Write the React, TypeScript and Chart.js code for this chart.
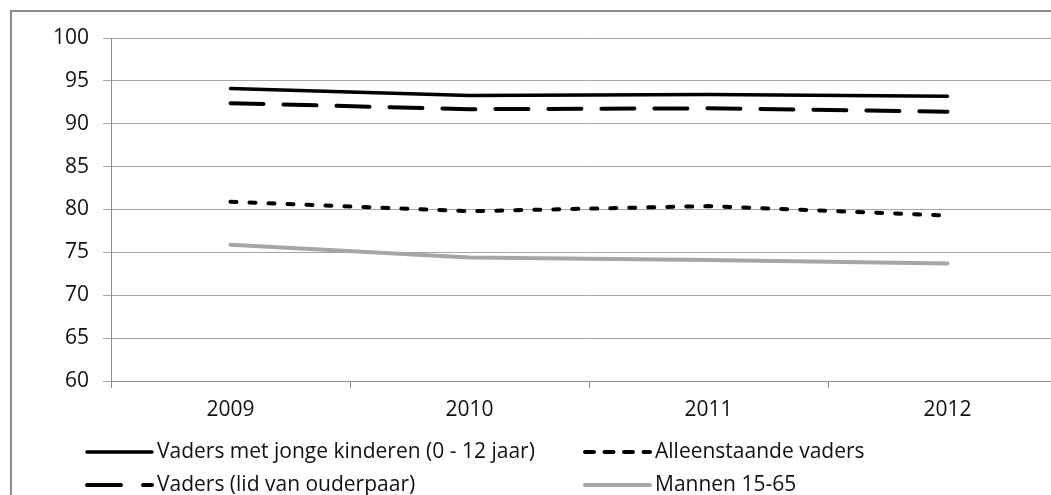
import React, { useEffect, useRef } from "react";
import { Chart, registerables } from "chart.js";

Chart.register(...registerables);

const years = ["2009", "2010", "2011", "2012"];
const vadersJongeKinderen = [94.1, 93.3, 93.4, 93.2];
const vadersOuderpaar = [92.4, 91.7, 91.8, 91.4];
const alleenstaandeVaders = [80.9, 79.8, 80.4, 79.3];
const mannen1565 = [75.9, 74.4, 74.1, 73.7];
const seriesLabels = [
  "Vaders met jonge kinderen (0 - 12 jaar)",
  "Alleenstaande vaders",
  "Vaders (lid van ouderpaar)",
  "Mannen 15-65",
];

const FONT = "'Open Sans', sans-serif";
const FONT_SIZE = 21;

const legendPlugin = {
  id: "customLegend",
  afterDraw(chart: any) {
    const ctx = chart.ctx;
    const order = [0, 2, 1, 3];
    const positions = [
      { x: 87, y: 452 },
      { x: 585, y: 452 },
      { x: 87, y: 485 },
      { x: 585, y: 485 },
    ];
    ctx.save();
    order.forEach((dsIndex, i) => {
      const ds = chart.data.datasets[dsIndex];
      const p = positions[i];
      ctx.beginPath();
      ctx.strokeStyle = ds.borderColor;
      ctx.lineWidth = ds.borderWidth;
      ctx.lineCap = "round";
      ctx.setLineDash(ds.legendDash || []);
      ctx.moveTo(p.x, p.y);
      ctx.lineTo(p.x + 65, p.y);
      ctx.stroke();
      ctx.setLineDash([]);
      ctx.fillStyle = "#111";
      ctx.font = `${FONT_SIZE}px ${FONT}`;
      ctx.textAlign = "left";
      ctx.textBaseline = "middle";
      ctx.fillText(ds.label, p.x + 70, p.y);
    });
    ctx.restore();
  },
};

export default function App() {
  const ref = useRef<HTMLCanvasElement>(null);
  useEffect(() => {
    document.body.style.margin = "0";
    document.body.style.overflow = "hidden";
    const chart = new Chart(ref.current!, {
      type: "line",
      data: {
        labels: years,
        datasets: [
          {
            label: seriesLabels[0],
            data: vadersJongeKinderen,
            borderColor: "#000000",
            borderWidth: 3.5,
            borderCapStyle: "round",
            pointRadius: 0,
            legendDash: [],
          } as any,
          {
            label: seriesLabels[2],
            data: vadersOuderpaar,
            borderColor: "#000000",
            borderWidth: 4,
            borderCapStyle: "round",
            borderDash: [33, 20],
            pointRadius: 0,
            legendDash: [34, 22],
          } as any,
          {
            label: seriesLabels[1],
            data: alleenstaandeVaders,
            borderColor: "#000000",
            borderWidth: 4,
            borderCapStyle: "round",
            borderDash: [6, 13],
            pointRadius: 0,
            legendDash: [9, 10.5],
          } as any,
          {
            label: seriesLabels[3],
            data: mannen1565,
            borderColor: "#a6a6a6",
            borderWidth: 4,
            borderCapStyle: "round",
            pointRadius: 0,
            legendDash: [],
          } as any,
        ],
      },
      options: {
        responsive: false,
        animation: false,
        layout: { padding: { left: 0, top: 38, right: 23, bottom: 69 } },
        plugins: { legend: { display: false }, tooltip: { enabled: false } },
        scales: {
          x: {
            offset: true,
            afterFit: (s: any) => {
              s.height = 45;
            },
            grid: {
              offset: true,
              drawOnChartArea: false,
              drawTicks: true,
              tickLength: 7,
              color: "#8c8c8c",
            },
            border: { color: "#8c8c8c", width: 1 },
            ticks: {
              color: "#111",
              padding: 9,
              font: { family: FONT, size: FONT_SIZE },
            },
          },
          y: {
            min: 60,
            max: 100,
            afterFit: (s: any) => {
              s.width = 111;
            },
            grid: {
              color: "#a6a6a6",
              tickLength: 8,
            },
            border: { color: "#8c8c8c", width: 1 },
            ticks: {
              stepSize: 5,
              color: "#111",
              padding: 14,
              font: { family: FONT, size: FONT_SIZE },
            },
          },
        },
      },
      plugins: [legendPlugin],
    });
    return () => chart.destroy();
  }, []);

  return (
    <div
      style={{
        position: "fixed",
        left: 0,
        top: 0,
        width: 1051,
        height: 495,
        overflow: "hidden",
        background: "#fff",
      }}
    >
      <div
        style={{
          position: "absolute",
          left: 10,
          top: 10,
          width: 1090,
          height: 520,
          border: "2px solid #8c8c8c",
          boxSizing: "border-box",
        }}
      />
      <canvas
        ref={ref}
        width={1090}
        height={495}
        style={{ position: "absolute", left: 0, top: 0, width: 1090, height: 495 }}
      />
    </div>
  );
}
